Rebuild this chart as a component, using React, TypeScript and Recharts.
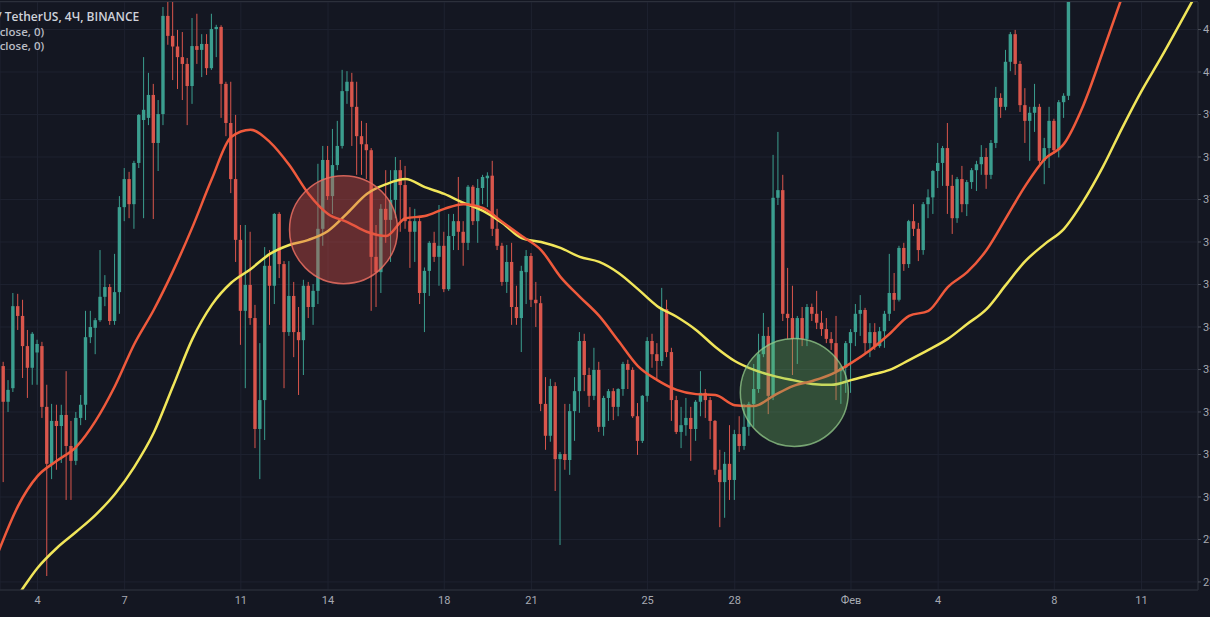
import React from 'react';
import {
  ComposedChart,
  Bar,
  Line,
  XAxis,
  YAxis,
  CartesianGrid,
  ReferenceDot,
} from 'recharts';

// 4h candles, BTC / USDT. index 0 = Jan 4 00:00, one step = 4 hours
const FIRST_CANDLE = -7;

// [open, high, low, close]
const ohlc: [number, number, number, number][] = [
  [33080, 33180, 30350, 32240],
  // Jan 3
  [32240, 32750, 32000, 32520], [32560, 34800, 32470, 34490], [34490, 34780, 33930, 34260],
  [34260, 34640, 32800, 33550], [33550, 33930, 32330, 33040], [33040, 33880, 32640, 33840],
  // Jan 4
  [33400, 33700, 32640, 33600], [33550, 33650, 31860, 32120], [32120, 32640, 28140, 30780],
  [30780, 32190, 30420, 31790], [31790, 32170, 30640, 31670], [31670, 32170, 30800, 31930],
  // Jan 5
  [31930, 32960, 29930, 31200], [31200, 31790, 29930, 30850], [30850, 32000, 30750, 31860],
  [31860, 32400, 31690, 32170], [32170, 34380, 31810, 33760], [33760, 34380, 33620, 34000],
  // Jan 6
  [33980, 34210, 33360, 34160], [34160, 35810, 34120, 34710], [34710, 35220, 34490, 34940],
  [34940, 35010, 34050, 34140], [34140, 35720, 34050, 34820], [34820, 37080, 34310, 36820],
  // Jan 7
  [36820, 37740, 36490, 37480], [37480, 37650, 36560, 36890], [36890, 37910, 36310, 37860],
  [37860, 39010, 37740, 38990], [38870, 40350, 36560, 39110], [38920, 39980, 38750, 39460],
  // Jan 8
  [39460, 39720, 36540, 38330], [38330, 39340, 37670, 39010], [39010, 41530, 38750, 41320],
  [41320, 41950, 40640, 40850], [40850, 41700, 39810, 40600], [40600, 40990, 39600, 40350],
  // Jan 9
  [40350, 40940, 39340, 40190], [40190, 40330, 38750, 39670], [39670, 41270, 39250, 40610],
  [40610, 41370, 40190, 40520], [40520, 40890, 39880, 40660], [40660, 40890, 39930, 40090],
  // Jan 10
  [40090, 41370, 40050, 41010], [41010, 41110, 40350, 41060], [41060, 41100, 38920, 39720],
  [39720, 39770, 38490, 38800], [38800, 39770, 37150, 37480], [37480, 38990, 35530, 36050],
  // Jan 11
  [36050, 36400, 33580, 34380], [34380, 36400, 32560, 34990], [34990, 36240, 34050, 34210],
  [34210, 34520, 31150, 31600], [31600, 33620, 30420, 32280], [32280, 35880, 31340, 35440],
  // Jan 12
  [35440, 35810, 34050, 34970], [34970, 36680, 34540, 36660], [36660, 36700, 35150, 35480],
  [35480, 35550, 32560, 33880], [33880, 35550, 33790, 34730], [34730, 35060, 33290, 33880],
  // Jan 13
  [33880, 34470, 32400, 33690], [33690, 35110, 32870, 34970], [34970, 35060, 34210, 34470],
  [34470, 35010, 34050, 34850], [34850, 37840, 34540, 36310], [36310, 38260, 35910, 37930],
  // Jan 14
  [37930, 38260, 36990, 37080], [37080, 38660, 36660, 37810], [37810, 38850, 37690, 38260],
  [38260, 40050, 38200, 39550], [39550, 40020, 39250, 39770], [39770, 39980, 38260, 39180],
  // Jan 15
  [39180, 39770, 37580, 38490], [38490, 38850, 37580, 38300], [38300, 38800, 37480, 38160],
  [38160, 38210, 34380, 35650], [35650, 36400, 34470, 35290], [35290, 36890, 34800, 36780],
  // Jan 16
  [36780, 37690, 35980, 36520], [36520, 37690, 35530, 36990], [36990, 38000, 36560, 37690],
  [37690, 37930, 36240, 37340], [37340, 37790, 36310, 36490], [36490, 36820, 35390, 36240],
  // Jan 17
  [36240, 36780, 35530, 36490], [36490, 36560, 34540, 34800], [34800, 35400, 33880, 35320],
  [35320, 36020, 34730, 35980], [35980, 36240, 35530, 35650], [35650, 36870, 34970, 35910],
  // Jan 18
  [35910, 36240, 34820, 34890], [34890, 36660, 34850, 36140], [36140, 36660, 35810, 36490],
  [36490, 37530, 35810, 36240], [36240, 36490, 35440, 35980], [35980, 37340, 35810, 37300],
  // Jan 19
  [37300, 37340, 36400, 36490], [36490, 37480, 35980, 37270], [37270, 37580, 36890, 37530],
  [37500, 37640, 36820, 37560], [37560, 37910, 36140, 36310], [36310, 36780, 35810, 35910],
  // Jan 20
  [35910, 35980, 34970, 35060], [35060, 35930, 34800, 35530], [35530, 35980, 34050, 34470],
  [34470, 34970, 34050, 34210], [34210, 35440, 33410, 35320], [35290, 35810, 34540, 35670],
  // Jan 21
  [35670, 35740, 34470, 34640], [34640, 35060, 34000, 34560], [34560, 34730, 32020, 32190],
  [32190, 32820, 31110, 31440], [31440, 32780, 31300, 32610], [32610, 32700, 30140, 30890],
  // Jan 22
  [30890, 31060, 28870, 31010], [31010, 32190, 30640, 30870], [30870, 32190, 30520, 32020],
  [32020, 32820, 31320, 32490], [32490, 33880, 31980, 33670], [33670, 33840, 32490, 32870],
  // Jan 23
  [32870, 33040, 32120, 32380], [32380, 33510, 32280, 32990], [32990, 33180, 31530, 31650],
  [31650, 32380, 31440, 32330], [32330, 32540, 31790, 32490], [32490, 32560, 31810, 32120],
  // Jan 24
  [32120, 32560, 31900, 32540], [32540, 33180, 32380, 33130], [33130, 33230, 32540, 32990],
  [32990, 33050, 31860, 31900], [31900, 32210, 30990, 31320], [31320, 32400, 31270, 32380],
  // Jan 25
  [32380, 33760, 32240, 33670], [33670, 33840, 33040, 33360], [33360, 33620, 32780, 33200],
  [33200, 34920, 33080, 34420], [34420, 34640, 33290, 33410], [33410, 33510, 31790, 32280],
  // Jan 26
  [32280, 32380, 31480, 31530], [31530, 32120, 31150, 31690], [31690, 32330, 31440, 31860],
  [31860, 32120, 30850, 31600], [31600, 32280, 31320, 32240], [32240, 32960, 31900, 32450],
  // Jan 27
  [32450, 32540, 31860, 32280], [32280, 32350, 31360, 31790], [31790, 31810, 30520, 30640],
  [30640, 31110, 29290, 30350], [30350, 31060, 29510, 30780], [30780, 31690, 29930, 30400],
  // Jan 28
  [30400, 31580, 29930, 31480], [31480, 31900, 31060, 31200], [31200, 32190, 31110, 31650],
  [31650, 32240, 31440, 32190], [32190, 33130, 31650, 32540], [32540, 33840, 32450, 33360],
  // Jan 29
  [33360, 34330, 33290, 33790], [33790, 34000, 31950, 32380], [32380, 38050, 32280, 37040],
  [37040, 38590, 36870, 37220], [37220, 37580, 34140, 34310], [34310, 35390, 33720, 34210],
  // Jan 30
  [34210, 34970, 32870, 33720], [33720, 34260, 33130, 34210], [34210, 34470, 33550, 33720],
  [33720, 34540, 33550, 34470], [34470, 34550, 34140, 34310], [34310, 34850, 33950, 34100],
  // Jan 31
  [34100, 34380, 33790, 33950], [33950, 34210, 33620, 33720], [33720, 33880, 33460, 33620],
  [33620, 34260, 32280, 32960], [32960, 33080, 32190, 33040], [33040, 33670, 32450, 33620],
  // Feb 1
  [33620, 33950, 32450, 33880], [33880, 34540, 33550, 34310], [34310, 34750, 33790, 34400],
  [34400, 34450, 33360, 33620], [33620, 34090, 33290, 33880], [33880, 34090, 33460, 33550],
  // Feb 2
  [33550, 34000, 33510, 33900], [33900, 34380, 33510, 34310], [34310, 35720, 34140, 34800],
  [34800, 35270, 34380, 34640], [34640, 35910, 34600, 35860], [35860, 35980, 35320, 35480],
  // Feb 3
  [35480, 36520, 35390, 36490], [36490, 36890, 36140, 36310], [36310, 36450, 35550, 35810],
  [35810, 36940, 35700, 36890], [36890, 37240, 36560, 37050], [37050, 37690, 36660, 37670],
  // Feb 4
  [37670, 38330, 37270, 37860], [37860, 38260, 37320, 38210], [38210, 38800, 36660, 37320],
  [37320, 37580, 36190, 36560], [36560, 37530, 36450, 37480], [37480, 37790, 36700, 36890],
  // Feb 5
  [36890, 37460, 36610, 37410], [37410, 37740, 37250, 37690], [37690, 37910, 37200, 37830],
  [37830, 38280, 37580, 38000], [38000, 38210, 37250, 37580], [37580, 38400, 37480, 38330],
  // Feb 6
  [38330, 39650, 38210, 39390], [39390, 39500, 38920, 39180], [39180, 40520, 39100, 40240],
  [40240, 40940, 40020, 40890], [40890, 40990, 39930, 40190], [40190, 40260, 39060, 39220],
  // Feb 7
  [39220, 39620, 38330, 38850], [38850, 39180, 37910, 39040], [39040, 39720, 38590, 39180],
  [39180, 39250, 37840, 37910], [37910, 38450, 37360, 38210], [38210, 39180, 37740, 38850],
  // Feb 8
  [38850, 38900, 38070, 38160], [38160, 39340, 37990, 39290], [39290, 39500, 38920, 39440],
  [39440, 44200, 39340, 43800],
];

// moving averages, read every 4 candles
const maIdx = [
  -8, -4, 0, 4, 8, 12, 16, 20, 24, 28, 32, 36, 40, 44, 48, 52, 56, 60, 64, 68, 72,
  76, 80, 84, 88, 92, 96, 100, 104, 108, 112, 116, 120, 124, 128, 132, 136, 140,
  144, 148, 152, 156, 160, 164, 168, 172, 176, 180, 184, 188, 192, 196, 200, 204,
  208, 212, 216, 220, 224, 228, 232, 236, 240,
];

const maFast = [
  28730, 29790, 30490, 30850, 31180, 31790, 32610, 33600, 34400, 35320, 36350,
  37480, 38470, 38640, 38350, 37810, 37130, 36660, 36470, 36240, 36140, 36560,
  36610, 36780, 36890, 36800, 36470, 36140, 35810, 35180, 34710, 34260, 33670,
  33080, 32750, 32520, 32420, 32400, 32160, 32140, 32380, 32610, 32730, 32890,
  33150, 33460, 33840, 34260, 34380, 34940, 35290, 35810, 36560, 37320, 37950,
  38310, 39220, 40470, 41770, 43100, null, null, null,
];

const maSlow = [
  27060, 27690, 28330, 28800, 29180, 29580, 30070, 30710, 31510, 32610, 33720,
  34520, 35040, 35360, 35720, 35930, 36050, 36260, 36680, 37130, 37360, 37480,
  37290, 37130, 36920, 36730, 36450, 36090, 36000, 35860, 35650, 35530, 35270,
  34890, 34490, 34240, 33930, 33530, 33200, 32990, 32850, 32750, 32660, 32640,
  32750, 32870, 32990, 33220, 33460, 33720, 34070, 34420, 34990, 35550, 35950,
  36310, 36960, 37760, 38680, 39550, 40330, 41150, 41980,
];

const dayTicks = [0, 18, 42, 60, 84, 102, 126, 144, 168, 186, 210, 228];
const dayLabels = ['4', '7', '11', '14', '18', '21', '25', '28', 'Фев', '4', '8', '11'];

const priceTicks = [
  28000, 29000, 30000, 31000, 32000, 33000, 34000, 35000, 36000, 37000, 38000,
  39000, 40000, 41000,
];

// highlighted crossings: [candle index, price]
const bearCross = [63.2, 36290];
const bullCross = [156.3, 32460];

const BG = '#141722';
const GRID = '#1e2230';
const UP = '#3b9e8f';
const DOWN = '#d9564c';

const rows: any[] = [];
for (let i = -8; i <= 240; i++) {
  const bar = ohlc[i - FIRST_CANDLE];
  const m = maIdx.indexOf(i);
  rows.push({
    i,
    ...(bar
      ? { o: bar[0], h: bar[1], l: bar[2], c: bar[3], range: [bar[2], bar[1]] }
      : {}),
    fast: m >= 0 ? maFast[m] : null,
    slow: m >= 0 ? maSlow[m] : null,
  });
}

const Candle = (props: any) => {
  const { x, y, width, height, payload } = props;
  if (!payload || payload.o == null || isNaN(y) || isNaN(height)) return null;
  const { o, h, l, c } = payload;
  const top = Math.min(y, y + height);
  const hh = Math.abs(height);
  const span = h - l || 1;
  const toY = (v: number) => top + ((h - v) / span) * hh;
  const color = c >= o ? UP : DOWN;
  const cx = x + width / 2;
  const bodyTop = toY(Math.max(o, c));
  const bodyBot = toY(Math.min(o, c));
  const bw = 3.4;
  return (
    <g>
      <line x1={cx} x2={cx} y1={top} y2={top + hh} stroke={color} strokeWidth={1} />
      <rect
        x={cx - bw / 2}
        y={bodyTop}
        width={bw}
        height={Math.max(1, bodyBot - bodyTop)}
        fill={color}
      />
    </g>
  );
};

export default function App() {
  const axisTick = { fill: '#a7aab3', fontSize: 11, fontFamily: 'Roboto' };

  return (
    <div
      style={{
        position: 'absolute',
        left: 0,
        top: 0,
        width: 1210,
        height: 617,
        background: BG,
        overflow: 'hidden',
      }}
    >
      <ComposedChart
        width={1210}
        height={617}
        data={rows}
        margin={{ top: 2, right: 0, bottom: 0, left: 0 }}
      >
        <CartesianGrid stroke={GRID} strokeWidth={1} />
        <XAxis
          type="number"
          dataKey="i"
          domain={[-7.745, 239.67]}
          allowDataOverflow
          ticks={dayTicks}
          interval={0}
          tickFormatter={(v) => dayLabels[dayTicks.indexOf(v)] ?? ''}
          height={27}
          tickSize={4}
          tickLine={false}
          axisLine={{ stroke: '#2c303b' }}
          tick={axisTick}
        />
        <YAxis
          orientation="right"
          domain={[27811, 41647]}
          allowDataOverflow
          ticks={priceTicks}
          interval={0}
          width={12}
          tickSize={3}
          tickLine={{ stroke: '#4a4e59' }}
          axisLine={{ stroke: '#2c303b' }}
          tick={axisTick}
          tickFormatter={(v) => v.toFixed(2)}
        />
        <Bar
          dataKey="range"
          barSize={4}
          shape={<Candle />}
          isAnimationActive={false}
        />
        <Line
          dataKey="slow"
          type="monotone"
          stroke="#f1e65a"
          strokeWidth={2.5}
          dot={false}
          connectNulls
          isAnimationActive={false}
        />
        <Line
          dataKey="fast"
          type="monotone"
          stroke="#ef5a3c"
          strokeWidth={2.5}
          dot={false}
          connectNulls
          isAnimationActive={false}
        />
        <ReferenceDot
          x={bearCross[0]}
          y={bearCross[1]}
          r={54}
          fill="rgba(220, 80, 70, 0.4)"
          stroke="rgba(236, 110, 98, 0.85)"
          strokeWidth={1.5}
        />
        <ReferenceDot
          x={bullCross[0]}
          y={bullCross[1]}
          r={54}
          fill="rgba(112, 190, 104, 0.33)"
          stroke="rgba(150, 205, 140, 0.75)"
          strokeWidth={1.5}
        />
      </ComposedChart>
      <div
        style={{
          position: 'absolute',
          left: 0,
          top: 1,
          width: 1198,
          height: 1,
          background: '#2c303b',
        }}
      />
      <div
        style={{
          position: 'absolute',
          left: -3,
          top: 10,
          fontFamily: 'Open Sans',
          fontSize: 12,
          fontWeight: 600,
          lineHeight: '14.5px',
          color: '#cfd2da',
          whiteSpace: 'nowrap',
        }}
      >
        <div>/ TetherUS, 4Ч, BINANCE</div>
        <div style={{ fontSize: 11.5, color: '#b9bcc5', marginLeft: -1 }}>(close, 0)</div>
        <div style={{ fontSize: 11.5, color: '#b9bcc5', marginLeft: -1 }}>(close, 0)</div>
      </div>
    </div>
  );
}
